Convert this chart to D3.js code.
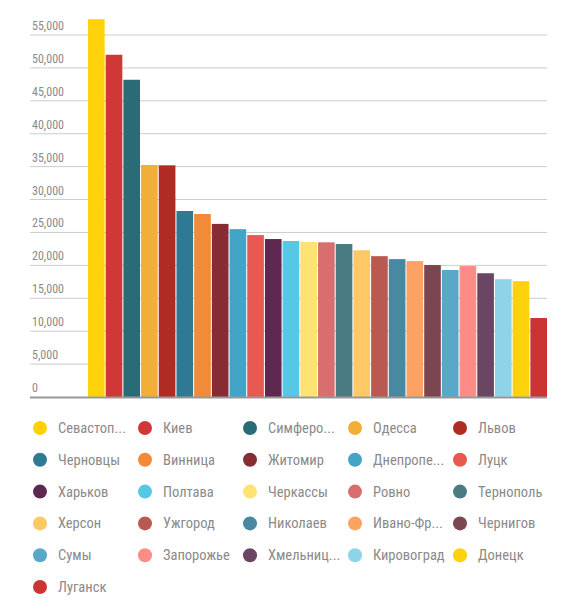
<!DOCTYPE html>
<html><head><meta charset="utf-8">
<script src="https://cdn.jsdelivr.net/npm/d3@7"></script>
<style>body{margin:0;background:#fff}text{font-family:'Liberation Sans Narrow','Roboto Condensed','PT Sans Narrow',sans-serif;fill:#8a8a8a}</style>
</head><body><div id="chart"></div>
<script>
const cities = ['Севастополь', 'Киев', 'Симферополь', 'Одесса', 'Львов', 'Черновцы', 'Винница', 'Житомир', 'Днепропетровск', 'Луцк',
  'Харьков', 'Полтава', 'Черкассы', 'Ровно', 'Тернополь', 'Херсон', 'Ужгород', 'Николаев', 'Ивано-Франковск', 'Чернигов',
  'Сумы', 'Запорожье', 'Хмельницкий', 'Кировоград', 'Донецк', 'Луганск'];
const legendLabels = ['Севастоп...', 'Киев', 'Симферо...', 'Одесса', 'Львов', 'Черновцы', 'Винница', 'Житомир', 'Днепропе...', 'Луцк',
  'Харьков', 'Полтава', 'Черкассы', 'Ровно', 'Тернополь', 'Херсон', 'Ужгород', 'Николаев', 'Ивано-Фр...', 'Чернигов',
  'Сумы', 'Запорожье', 'Хмельниц...', 'Кировоград', 'Донецк', 'Луганск'];
const values = [57400, 52000, 48200, 35250, 35200, 28260, 27800, 26300, 25500, 24600,
  24000, 23700, 23550, 23500, 23250, 22300, 21400, 20950, 20650, 20050,
  19300, 19900, 18800, 17900, 17600, 12000];
const colors = ['#fdd20a', '#d03838', '#2a6b78', '#f2af38', '#b02c22', '#2f7a92', '#f28a38', '#862c35', '#42a4c6', '#e8594f',
  '#5e274f', '#55c8e6', '#fee272', '#d86e6e', '#4a7a82', '#fec864', '#b85a52', '#4888a0', '#fea264', '#7c4650',
  '#58a8c8', '#fe8c86', '#6a4662', '#8ed4e8', '#fdd20a', '#cc3434'];
const yTicks = [0, 5000, 10000, 15000, 20000, 25000, 30000, 35000, 40000, 45000, 50000, 55000];

const width = 576, height = 606;
const svg = d3.select('#chart').append('svg').attr('width', width).attr('height', height);

const x = d3.scaleBand().domain(cities).range([88, 547]).paddingInner(0.06).paddingOuter(0);
const y = d3.scaleLinear().domain([0, 55000]).range([397, 35]);

const grid = svg.append('g');
grid.selectAll('line').data(yTicks.filter(d => d > 0)).join('line')
  .attr('x1', 30).attr('x2', 547).attr('y1', d => y(d)).attr('y2', d => y(d))
  .attr('stroke', '#ccc').attr('stroke-width', 1);
grid.selectAll('text').data(yTicks).join('text')
  .attr('x', 32).attr('y', d => y(d) - 5).attr('font-size', 12)
  .text(d => d3.format(',')(d));

svg.append('g').selectAll('rect').data(values).join('rect')
  .attr('x', (d, i) => x(cities[i])).attr('width', x.bandwidth())
  .attr('y', d => y(d)).attr('height', d => y(0) - y(d))
  .attr('fill', (d, i) => colors[i]);

svg.append('line').attr('x1', 30).attr('x2', 547).attr('y1', 397.5).attr('y2', 397.5)
  .attr('stroke', '#999').attr('stroke-width', 2);

const colX = [40, 145, 250, 355, 460];
const leg = svg.append('g').selectAll('g').data(legendLabels).join('g')
  .attr('transform', (d, i) => `translate(${colX[i % 5]},${428 + Math.floor(i / 5) * 31.8})`);
leg.append('circle').attr('r', 7).attr('fill', (d, i) => colors[i]);
leg.append('text').attr('x', 18).attr('dy', '0.35em').attr('font-size', 14.5)
  .text(d => d);
</script></body></html>
